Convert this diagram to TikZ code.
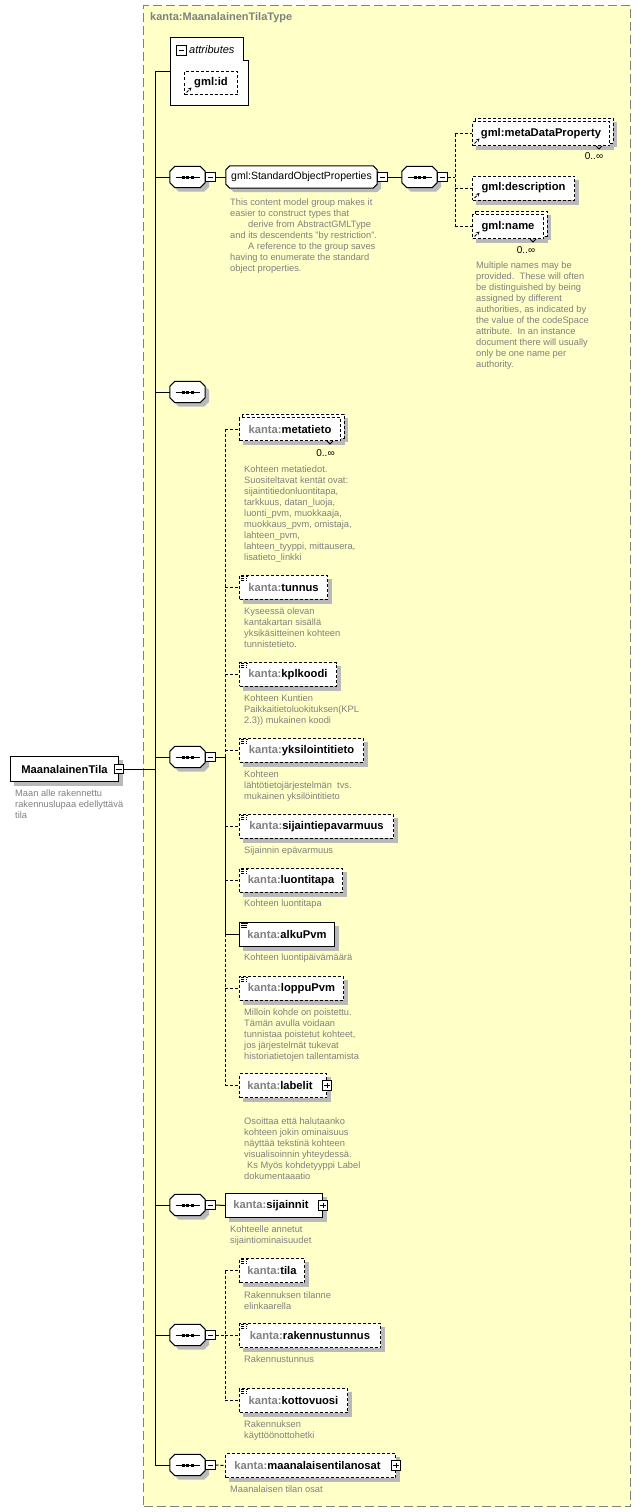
\documentclass[tikz,border=0pt]{standalone}
\usepackage{fontspec}
\setmainfont{Liberation Sans}
\usetikzlibrary{arrows.meta}
\pgfdeclarelayer{bgA}
\pgfdeclarelayer{bgB}
\pgfsetlayers{bgA,bgB,main}
\definecolor{frameyellow}{RGB}{255,255,200}
\definecolor{framegray}{RGB}{128,128,128}
\definecolor{shadowgray}{RGB}{185,185,185}
\definecolor{descgray}{RGB}{128,128,128}
\definecolor{prefgray}{RGB}{128,128,128}
\newcommand\elfont{\fontsize{11.2}{13}\selectfont\bfseries}
\newcommand\regfont{\fontsize{10.5}{12}\selectfont}
\newcommand\descfont{\fontsize{9.3}{11}\selectfont}
\newcommand\cardfont{\fontsize{10}{12}\selectfont}
\newcommand\kname[1]{\textcolor{prefgray}{kanta:}#1}
\newcommand\octagon[2]{%
\begin{pgfonlayer}{bgB}
\fill[shadowgray] ([shift={(4+#2,4)}]#1.north west) -- ([shift={(4-#2,4)}]#1.north east) -- ([shift={(4,4+#2)}]#1.north east) -- ([shift={(4,4-#2)}]#1.south east) -- ([shift={(4-#2,4)}]#1.south east) -- ([shift={(4+#2,4)}]#1.south west) -- ([shift={(4,4-#2)}]#1.south west) -- ([shift={(4,4+#2)}]#1.north west) -- cycle;
\draw[line width=1pt, fill=white] ([shift={(#2,0)}]#1.north west) -- ([shift={(-#2,0)}]#1.north east) -- ([shift={(0,#2)}]#1.north east) -- ([shift={(0,-#2)}]#1.south east) -- ([shift={(-#2,0)}]#1.south east) -- ([shift={(#2,0)}]#1.south west) -- ([shift={(0,-#2)}]#1.south west) -- ([shift={(0,#2)}]#1.north west) -- cycle;
\end{pgfonlayer}}
\newcommand\seqdots[1]{%
\draw[line width=1pt] ([shift={(-12,0)}]#1.center) -- ([shift={(12,0)}]#1.center);
\foreach \dx in {-4.5,0,4.5}{\fill ([shift={(\dx-1.5,-1.5)}]#1.center) rectangle ([shift={(\dx+1.5,1.5)}]#1.center);}}
\newcommand\boxshadow[1]{%
\begin{pgfonlayer}{bgB}
\fill[shadowgray] ([shift={(4,4)}]#1.north west) rectangle ([shift={(4,4)}]#1.south east);
\end{pgfonlayer}}
\newcommand\multiback[1]{%
\begin{pgfonlayer}{bgB}
\fill[shadowgray] ([shift={(4,4)}]#1.north west) rectangle ([shift={(4,4)}]#1.south east);
\fill[shadowgray] ([shift={(7,1)}]#1.north west) rectangle ([shift={(7,1)}]#1.south east);
\draw[line width=1pt, fill=white, dash pattern=on 3pt off 2pt] ([shift={(3,-3)}]#1.north west) rectangle ([shift={(3,-3)}]#1.south east);
\end{pgfonlayer}
\draw[line width=0.8pt] ([shift={(-14,0)}]#1.south east) -- ([shift={(-11,3)}]#1.south east) -- ([shift={(-8,0)}]#1.south east);}
\begin{document}
\begin{tikzpicture}[x=1pt,y=-1pt,
  conn/.style={line width=1pt, black},
  dconn/.style={conn, dash pattern=on 3pt off 2pt},
  elem/.style={draw, fill=white, line width=1pt, inner sep=0, anchor=north west, font=\elfont},
  opt/.style={dash pattern=on 3pt off 2pt},
  simple/.style={path picture={
     \draw[line width=0.8pt] ([xshift=1.5pt,yshift=-1.3pt]path picture bounding box.north west) -- ++(6.5pt,0pt);
     \draw[line width=0.8pt] ([xshift=1.5pt,yshift=-3.3pt]path picture bounding box.north west) -- ++(5.5pt,0pt);
     \draw[line width=0.8pt] ([xshift=1.5pt,yshift=-5.3pt]path picture bounding box.north west) -- ++(6pt,0pt);}},
  ref/.style={path picture={\draw[line width=0.9pt,-{Stealth[length=3.5pt,width=3.5pt]}] ([xshift=2pt,yshift=2pt]path picture bounding box.south west) -- ++(5pt,5pt);}},
  pmbox/.style={draw, fill=white, line width=0.8pt, minimum size=9.5, inner sep=0},
  minusbox/.style={pmbox, path picture={\draw[line width=0.8pt] ([xshift=2pt]path picture bounding box.west) -- ([xshift=-2pt]path picture bounding box.east);}},
  plusbox/.style={pmbox, path picture={\draw[line width=0.8pt] ([xshift=2pt]path picture bounding box.west) -- ([xshift=-2pt]path picture bounding box.east);
     \draw[line width=0.8pt] ([yshift=-2pt]path picture bounding box.north) -- ([yshift=2pt]path picture bounding box.south);}},
  seqbox/.style={inner sep=0, minimum width=35, minimum height=21},
  desc/.style={anchor=north west, inner sep=0, align=left, font=\descfont, text=descgray},
  card/.style={inner sep=0, font=\cardfont}]
\useasboundingbox (0,0) rectangle (641,1512);
\begin{pgfonlayer}{bgA}
\node[draw=framegray, fill=frameyellow, line width=1pt, dash pattern=on 9pt off 4pt, inner sep=0, minimum width=487, minimum height=1501, anchor=north west] (frame) at (143,5) {};
\end{pgfonlayer}
\node[anchor=west, inner sep=0, font=\fontsize{11}{13}\selectfont\bfseries, text=prefgray] (title) at (150,18) {kanta:MaanalainenTilaType};

% attributes
\node[inner sep=0, minimum width=78, minimum height=67, anchor=north west] (attr) at (170,38) {};
\draw[line width=1pt, fill=white] (attr.north west) -- ([shift={(-5,0)}]attr.north east) -- ([shift={(-5,23)}]attr.north east) -- ([shift={(0,23)}]attr.north east) -- (attr.south east) -- (attr.south west) -- cycle;
\node[minusbox] (attrm) at (181.5,50.5) {};
\node[anchor=west, inner sep=0, font=\fontsize{11}{13}\selectfont\itshape] (attrl) at (189,50) {attributes};
\node[elem, opt, ref, minimum width=53, minimum height=23] (gmlid) at (184,71) {gml:id};
\boxshadow{gmlid}

% main element
\node[elem, minimum width=108, minimum height=25] (mt) at (10,756) {MaanalainenTila};
\boxshadow{mt}
\node[minusbox] (mtm) at (mt.east) {};
\node[desc] (mtd) at (15,789.5) {Maan alle rakennettu\\rakennuslupaa edellyttävä\\tila};

% sequences
\node[seqbox] (s1) at (187.5,177) {}; \octagon{s1}{5} \seqdots{s1}
\node[minusbox, anchor=west] (s1m) at (s1.east) {};
\node[seqbox] (s3) at (187.5,392) {}; \octagon{s3}{5} \seqdots{s3}
\node[seqbox] (s4) at (187.5,757) {}; \octagon{s4}{5} \seqdots{s4}
\node[minusbox, anchor=west] (s4m) at (s4.east) {};
\node[seqbox] (s5) at (187.5,1205) {}; \octagon{s5}{5} \seqdots{s5}
\node[minusbox, anchor=west] (s5m) at (s5.east) {};
\node[seqbox] (s6) at (187.5,1335) {}; \octagon{s6}{5} \seqdots{s6}
\node[minusbox, anchor=west] (s6m) at (s6.east) {};
\node[seqbox] (s7) at (187.5,1465) {}; \octagon{s7}{5} \seqdots{s7}
\node[minusbox, anchor=west] (s7m) at (s7.east) {};

% trunk
\coordinate (t0) at (155,72);
\draw[conn] (t0) -- (attr.west |- t0);
\draw[conn] (t0) |- (s7.west);
\foreach \s in {s1,s3,s4,s5,s6} {\draw[conn] (\s.west -| t0) -- (\s.west);}
\draw[conn] (mtm.east) -- (mtm.east -| t0);

% group
\node[inner sep=0, minimum width=151, minimum height=22, font=\regfont] (grp) at (301.5,177) {gml:StandardObjectProperties};
\octagon{grp}{4}
\node[minusbox, anchor=west] (grpm) at (grp.east) {};
\node[seqbox] (s2) at (419.5,177) {}; \octagon{s2}{5} \seqdots{s2}
\node[minusbox, anchor=west] (s2m) at (s2.east) {};
\draw[conn] (s1m.east) -- (grp.west);
\draw[conn] (grpm.east) -- (s2.west);
\node[desc] (grpd) at (230,198.5) {This content model group makes it\\easier to construct types that\\\hspace*{18pt}derive from AbstractGMLType\\and its descendents "by restriction".\\\hspace*{18pt}A reference to the group saves\\having to enumerate the standard\\object properties.};

% gml children
\node[elem, opt, ref, minimum width=137, minimum height=24] (mdp) at (472,121) {gml:metaDataProperty};
\multiback{mdp}
\node[card] (mdpc) at (594,156) {0..∞};
\node[elem, opt, ref, minimum width=102, minimum height=24] (gdesc) at (472,175.5) {gml:description};
\boxshadow{gdesc}
\node[elem, opt, ref, minimum width=71, minimum height=24] (gname) at (472,214) {gml:name};
\multiback{gname}
\node[card] (gnamec) at (526,250) {0..∞};
\node[desc] (gnamed) at (476,261.5) {Multiple names may be\\provided.\ \ These will often\\be distinguished by being\\assigned by different\\authorities, as indicated by\\the value of the codeSpace\\attribute.\ \ In an instance\\document there will usually\\only be one name per\\authority.};
\coordinate (v2) at (455,177);
\draw[dconn] (s2m.east) -- (v2);
\draw[dconn] (v2 |- mdp.west) -- (v2 |- gname.west);
\foreach \n in {mdp,gdesc,gname} {\draw[dconn] (v2 |- \n.west) -- (\n.west);}

% seq4 children
\node[elem, opt, minimum width=101, minimum height=23] (meta) at (239,417) {\kname{metatieto}};
\multiback{meta}
\node[card] (metac) at (325.5,453) {0..∞};
\node[desc] (metad) at (244,465.5) {Kohteen metatiedot.\\Suositeltavat kentät ovat:\\sijaintitiedonluontitapa,\\tarkkuus, datan\_luoja,\\luonti\_pvm, muokkaaja,\\muokkaus\_pvm, omistaja,\\lahteen\_pvm,\\lahteen\_tyyppi, mittausera,\\lisatieto\_linkki};

\node[elem, opt, simple, minimum width=88, minimum height=23.5] (tunnus) at (239,575) {\kname{tunnus}};
\boxshadow{tunnus}
\node[desc] (tunnusd) at (244,607.5) {Kyseessä olevan\\kantakartan sisällä\\yksikäsitteinen kohteen\\tunnistetieto.};

\node[elem, opt, simple, minimum width=97, minimum height=23.5] (kpl) at (239,662) {\kname{kplkoodi}};
\boxshadow{kpl}
\node[desc] (kpld) at (244,694.5) {Kohteen Kuntien\\Paikkaitietoluokituksen(KPL\\2.3)) mukainen koodi};

\node[elem, opt, simple, minimum width=124, minimum height=23.5] (yksi) at (239,738) {\kname{yksilointitieto}};
\boxshadow{yksi}
\node[desc] (yksid) at (244,770.5) {Kohteen\\lähtötietojärjestelmän\ \ tvs.\\mukainen yksilöintitieto};

\node[elem, opt, simple, minimum width=154, minimum height=23.5] (sijep) at (239,814) {\kname{sijaintiepavarmuus}};
\boxshadow{sijep}
\node[desc] (sijepd) at (244,846.5) {Sijainnin epävarmuus};

\node[elem, opt, simple, minimum width=103, minimum height=23.5] (luonti) at (239,868) {\kname{luontitapa}};
\boxshadow{luonti}
\node[desc] (luontid) at (244,899.5) {Kohteen luontitapa};

\node[elem, simple, minimum width=95, minimum height=23.5] (alku) at (239,922) {\kname{alkuPvm}};
\boxshadow{alku}
\node[desc] (alkud) at (244,953.5) {Kohteen luontipäivämäärä};

\node[elem, opt, simple, minimum width=104, minimum height=23.5] (loppu) at (239,976) {\kname{loppuPvm}};
\boxshadow{loppu}
\node[desc] (loppud) at (244,1008.5) {Milloin kohde on poistettu.\\Tämän avulla voidaan\\tunnistaa poistetut kohteet,\\jos järjestelmät tukevat\\historiatietojen tallentamista};

\node[elem, opt, minimum width=87, minimum height=24] (labelit) at (239,1073) {\kname{labelit}\hspace*{6pt}};
\boxshadow{labelit}
\node[plusbox] (labelitp) at (labelit.east) {};
\node[desc] (labelitd) at (244,1117.5) {Osoittaa että halutaanko\\kohteen jokin ominaisuus\\näyttää tekstinä kohteen\\visualisoinnin yhteydessä.\\\hspace*{3pt}Ks Myös kohdetyyppi Label\\dokumentaaatio};

\coordinate (v4) at (225,757);
\draw[conn] (s4m.east) -- (v4);
\draw[dconn] (v4) -- (v4 |- meta.west);
\draw[conn] (v4) -- (v4 |- alku.west);
\draw[dconn] (v4 |- alku.west) -- (v4 |- labelit.west);
\foreach \n in {meta,tunnus,kpl,yksi,sijep,luonti,loppu,labelit} {\draw[dconn] (v4 |- \n.west) -- (\n.west);}
\draw[conn] (v4 |- alku.west) -- (alku.west);

% seq5
\node[elem, minimum width=97, minimum height=24] (sij) at (225,1193) {\kname{sijainnit}\hspace*{6pt}};
\boxshadow{sij}
\node[plusbox] (sijp) at (sij.east) {};
\node[desc] (sijd) at (230,1225.5) {Kohteelle annetut\\sijaintiominaisuudet};
\draw[conn] (s5m.east) -- (sij.west);

% seq6
\node[elem, opt, simple, minimum width=65, minimum height=24] (tila) at (239,1258) {\kname{tila}};
\boxshadow{tila}
\node[desc] (tilad) at (244,1291.5) {Rakennuksen tilanne\\elinkaarella};
\node[elem, opt, simple, minimum width=141, minimum height=24] (rak) at (239,1323) {\kname{rakennustunnus}};
\boxshadow{rak}
\node[desc] (rakd) at (244,1355.5) {Rakennustunnus};
\node[elem, opt, simple, minimum width=108, minimum height=24] (kotto) at (239,1388) {\kname{kottovuosi}};
\boxshadow{kotto}
\node[desc] (kottod) at (244,1420.5) {Rakennuksen\\käyttöönottohetki};
\coordinate (v6) at (225,1335);
\draw[dconn] (s6m.east) -- (v6);
\draw[dconn] (v6 |- tila.west) -- (v6 |- kotto.west);
\foreach \n in {tila,rak,kotto} {\draw[dconn] (v6 |- \n.west) -- (\n.west);}

% seq7
\node[elem, opt, minimum width=170, minimum height=24] (maan) at (225,1453) {\kname{maanalaisentilanosat}\hspace*{6pt}};
\boxshadow{maan}
\node[plusbox] (maanp) at (maan.east) {};
\node[desc] (maand) at (230,1485.5) {Maanalaisen tilan osat};
\draw[dconn] (s7m.east) -- (maan.west);
\end{tikzpicture}
\end{document}
